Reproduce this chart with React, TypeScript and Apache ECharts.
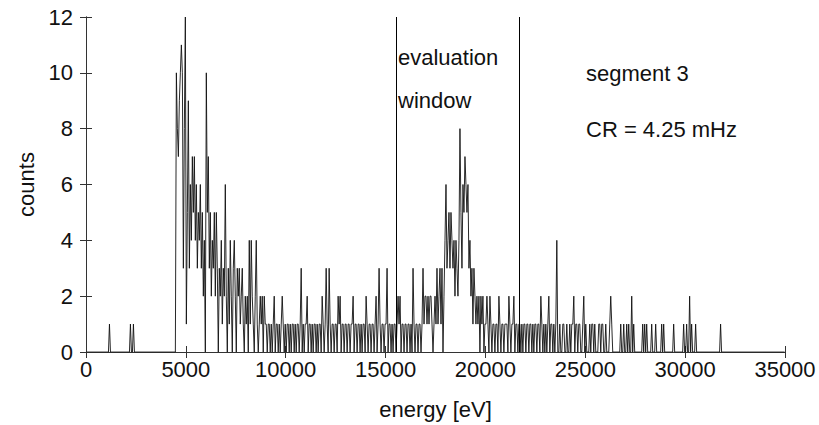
import React, { useEffect, useRef } from 'react';
import * as echarts from 'echarts';

// histogram: bin width 50 eV, bins start at 0 eV; one row = 1000 eV
const binWidth = 50;
const counts00k = [
  0, 0, 0, 0, 0, 0, 0, 0, 0, 0, 0, 0, 0, 0, 0, 0, 0, 0, 0, 0,
  0, 0, 0, 1, 0, 0, 0, 0, 0, 0, 0, 0, 0, 0, 0, 0, 0, 0, 0, 0,
  0, 0, 0, 0, 1, 0, 0, 1, 0, 0, 0, 0, 0, 0, 0, 0, 0, 0, 0, 0,
  0, 0, 0, 0, 0, 0, 0, 0, 0, 0, 0, 0, 0, 0, 0, 0, 0, 0, 0, 0,
  0, 0, 0, 0, 0, 0, 0, 0, 0, 0, 10, 8, 7, 9, 10, 11, 10, 3, 8, 12,
];
const counts05k = [
  1, 5, 9, 3, 6, 4, 7, 5, 7, 4, 6, 3, 5, 4, 6, 3, 5, 2, 4, 0,
  10, 5, 7, 3, 5, 2, 4, 3, 5, 2, 5, 3, 0, 3, 2, 4, 1, 3, 2, 6,
  2, 0, 3, 1, 4, 2, 0, 3, 4, 2, 0, 3, 2, 3, 1, 2, 3, 1, 0, 2,
  1, 2, 0, 4, 1, 4, 2, 1, 0, 2, 4, 1, 0, 1, 2, 1, 2, 0, 2, 1,
  1, 0, 1, 1, 0, 1, 0, 1, 2, 0, 1, 1, 0, 1, 0, 1, 2, 1, 0, 1,
];
const counts10k = [
  0, 1, 1, 0, 1, 0, 1, 1, 0, 1, 0, 1, 1, 0, 1, 3, 0, 1, 0, 1,
  1, 2, 0, 1, 1, 0, 1, 0, 1, 1, 0, 1, 0, 1, 1, 0, 2, 1, 0, 1,
  3, 1, 0, 3, 1, 0, 1, 1, 0, 1, 1, 0, 2, 1, 2, 0, 1, 1, 0, 1,
  1, 0, 1, 1, 0, 1, 1, 2, 0, 1, 1, 0, 1, 1, 0, 1, 0, 1, 1, 0,
  2, 1, 0, 1, 1, 0, 1, 1, 0, 1, 2, 0, 1, 3, 1, 0, 1, 1, 0, 1,
];
const counts15k = [
  1, 3, 0, 1, 1, 0, 1, 0, 1, 1, 0, 1, 2, 1, 2, 0, 1, 1, 0, 1,
  1, 0, 1, 1, 0, 1, 0, 3, 1, 0, 1, 1, 0, 1, 1, 0, 1, 3, 1, 2,
  2, 1, 2, 1, 2, 2, 1, 0, 1, 2, 1, 3, 1, 2, 3, 1, 3, 0, 2, 4,
  6, 3, 4, 5, 3, 5, 4, 3, 4, 2, 4, 3, 2, 4, 8, 5, 3, 6, 5, 7,
  6, 5, 6, 3, 4, 2, 3, 1, 3, 2, 1, 2, 1, 2, 0, 2, 1, 2, 0, 1,
];
const counts20k = [
  1, 2, 1, 0, 2, 1, 0, 1, 1, 0, 1, 1, 0, 2, 1, 0, 1, 1, 0, 1,
  1, 1, 0, 2, 1, 0, 1, 1, 2, 0, 1, 1, 0, 1, 1, 0, 1, 0, 1, 1,
  0, 1, 1, 0, 1, 1, 0, 1, 0, 1, 1, 0, 1, 1, 0, 2, 1, 0, 1, 0,
  1, 0, 1, 2, 0, 1, 1, 0, 1, 0, 1, 4, 0, 0, 1, 0, 0, 1, 1, 0,
  0, 1, 0, 0, 1, 0, 1, 1, 2, 0, 1, 1, 0, 1, 1, 0, 0, 1, 2, 0,
];
const counts25k = [
  1, 0, 0, 0, 1, 0, 1, 1, 0, 1, 0, 0, 0, 1, 1, 0, 1, 1, 0, 0,
  1, 0, 0, 0, 1, 2, 1, 0, 0, 0, 0, 0, 0, 0, 0, 1, 0, 0, 1, 0,
  0, 1, 0, 1, 0, 0, 2, 0, 1, 0, 0, 0, 0, 0, 0, 0, 0, 1, 0, 1,
  0, 1, 0, 0, 0, 0, 1, 0, 0, 0, 1, 0, 0, 0, 0, 0, 1, 0, 1, 0,
  0, 0, 0, 0, 0, 0, 0, 0, 1, 0, 0, 0, 0, 0, 0, 0, 0, 0, 1, 0,
];
const counts30k = [
  0, 1, 0, 0, 2, 0, 1, 0, 0, 0, 1, 0, 0, 0, 0, 0, 0, 0, 0, 0,
  0, 0, 0, 0, 0, 0, 0, 0, 0, 0, 0, 0, 0, 0, 0, 1, 0, 0, 0, 0,
  0, 0, 0, 0, 0, 0, 0, 0, 0, 0, 0, 0, 0, 0, 0, 0, 0, 0, 0, 0,
  0, 0, 0, 0, 0, 0, 0, 0, 0, 0, 0, 0, 0, 0, 0, 0, 0, 0, 0, 0,
  0, 0, 0, 0, 0, 0, 0, 0, 0, 0, 0, 0, 0, 0, 0, 0, 0, 0, 0, 0,
];
const counts = [
  ...counts00k, ...counts05k, ...counts10k, ...counts15k,
  ...counts20k, ...counts25k, ...counts30k,
];

const windowEdges = [15550, 21700];
const xRange = [0, 35000];
const xStep = 5000;
const yRange = [0, 12];
const yStep = 2;
const xTitle = 'energy [eV]';
const yTitle = 'counts';
const notes = ['evaluation', 'window', 'segment 3', 'CR = 4.25 mHz'];

const FONT = '"Liberation Sans", Arial, sans-serif';

export default function App() {
  const ref = useRef<HTMLDivElement>(null);
  useEffect(() => {
    const chart = echarts.init(ref.current!, null, { renderer: 'svg' });
    const data = counts.map((c, i) => [i * binWidth + binWidth / 2, c]);
    const axisCommon = {
      type: 'value',
      splitLine: { show: false },
      axisLine: { show: true, lineStyle: { color: '#333', width: 1 } },
      axisTick: { show: true, inside: true, length: 6, lineStyle: { color: '#333', width: 1 } },
    };
    const textStyle = { fontSize: 22, color: '#111', fontFamily: FONT };
    const plain = (v: number) => String(v);
    chart.setOption({
      animation: false,
      backgroundColor: '#fff',
      grid: { left: 86, right: 34, top: 17, bottom: 73, containLabel: false },
      xAxis: [
        {
          ...axisCommon,
          position: 'bottom',
          min: xRange[0],
          max: xRange[1],
          interval: xStep,
          axisLabel: { ...textStyle, margin: 6, formatter: plain },
          name: xTitle,
          nameLocation: 'middle',
          nameGap: 46,
          nameTextStyle: textStyle,
        },
        {
          ...axisCommon,
          position: 'top',
          min: xRange[0],
          max: xRange[1],
          interval: xStep,
          axisLabel: { show: false },
        },
      ],
      yAxis: [
        {
          ...axisCommon,
          position: 'left',
          min: yRange[0],
          max: yRange[1],
          interval: yStep,
          axisLabel: { ...textStyle, margin: 13, formatter: plain },
          name: yTitle,
          nameLocation: 'middle',
          nameGap: 44,
          nameTextStyle: textStyle,
        },
        {
          ...axisCommon,
          position: 'right',
          min: yRange[0],
          max: yRange[1],
          interval: yStep,
          axisLabel: { show: false },
        },
      ],
      series: [
        {
          type: 'line',
          data,
          xAxisIndex: 0,
          yAxisIndex: 0,
          symbol: 'none',
          showSymbol: false,
          clip: true,
          lineStyle: { color: '#111', width: 0.9 },
          emphasis: { disabled: true },
          markLine: {
            silent: true,
            symbol: ['none', 'none'],
            label: { show: false },
            lineStyle: { color: '#000', width: 1, type: 'solid' },
            emphasis: { disabled: true },
            data: windowEdges.map((x) => ({ xAxis: x })),
          },
        },
      ],
      graphic: [
        { type: 'text', left: 398, top: 46, style: { text: notes[0], fontSize: 22, fill: '#111', fontFamily: FONT } },
        { type: 'text', left: 398, top: 89, style: { text: notes[1], fontSize: 22, fill: '#111', fontFamily: FONT } },
        { type: 'text', left: 586, top: 62, style: { text: notes[2], fontSize: 22, fill: '#111', fontFamily: FONT } },
        { type: 'text', left: 586, top: 118, style: { text: notes[3], fontSize: 22, fill: '#111', fontFamily: FONT } },
      ],
    });
    return () => chart.dispose();
  }, []);
  return (
    <div
      ref={ref}
      style={{ position: 'fixed', left: 0, top: 0, width: 819, height: 425, background: '#fff' }}
    />
  );
}
